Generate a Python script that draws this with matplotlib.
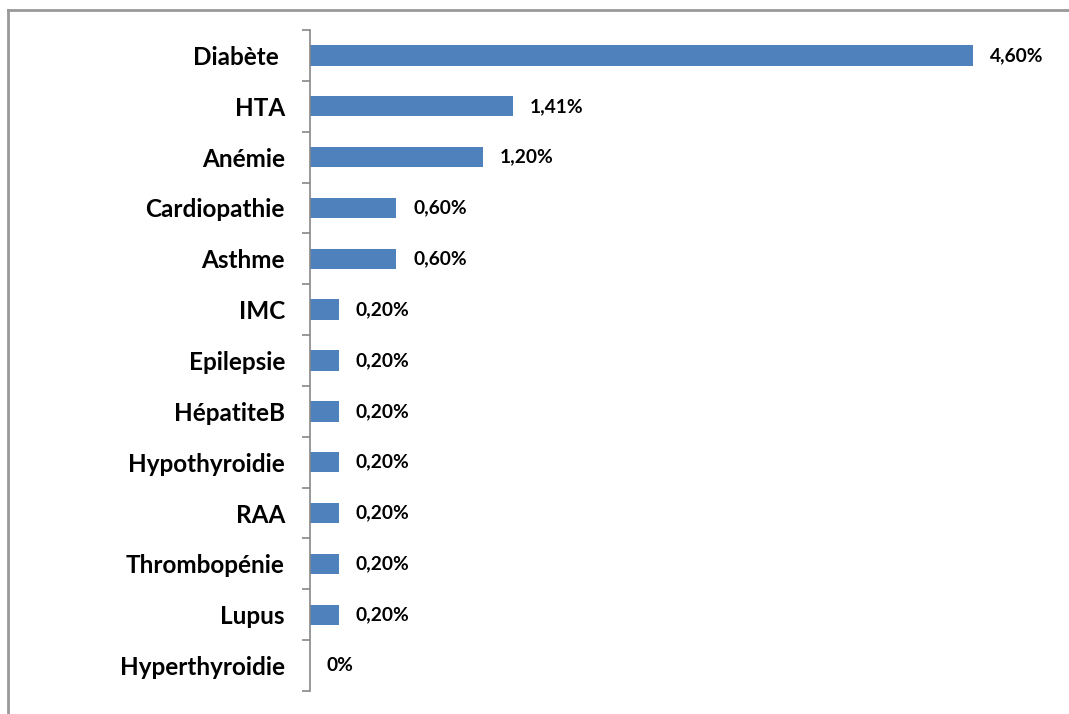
import matplotlib.pyplot as plt
from matplotlib.lines import Line2D

# Prevalence of comorbidities (%)
categories = ['Diabète ', 'HTA', 'Anémie', 'Cardiopathie', 'Asthme', 'IMC', 'Epilepsie',
              'HépatiteB', 'Hypothyroidie', 'RAA', 'Thrombopénie', 'Lupus', 'Hyperthyroidie']
values = [4.60, 1.41, 1.20, 0.60, 0.60, 0.20, 0.20, 0.20, 0.20, 0.20, 0.20, 0.20, 0.0]
value_labels = ['4,60%', '1,41%', '1,20%', '0,60%', '0,60%', '0,20%', '0,20%',
                '0,20%', '0,20%', '0,20%', '0,20%', '0,20%', '0%']

W, H = 1069, 714
fig = plt.figure(figsize=(W / 100, H / 100), dpi=100)
plt.rcParams['font.family'] = ['Lato', 'DejaVu Sans']

# plot area placed in pixel terms
left, right, top, bottom = 310, 1030.5, 30, 691
ax = fig.add_axes([left / W, 1 - bottom / H, (right - left) / W, (bottom - top) / H])

n = len(categories)
ypos = list(range(n))
ax.barh(ypos, values, height=0.4, color='#4F81BD')
ax.set_ylim(n - 0.5, -0.5)
ax.set_xlim(0, 5.0)

for y, v, lab in zip(ypos, values, value_labels):
    ax.annotate(lab, (v, y), xytext=(12, 0), textcoords='offset points',
                va='center', ha='left', fontsize=13.8, fontweight='bold')

# category labels and separator ticks
ax.set_yticks(ypos)
ax.set_yticklabels(categories, fontsize=17.5, fontweight='bold')
ax.tick_params(axis='y', which='major', length=0, pad=18)
ax.set_yticks([i - 0.5 for i in range(n + 1)], minor=True)
ax.tick_params(axis='y', which='minor', length=6, width=1.2, color='#888888', direction='out')
ax.set_xticks([])

for s in ['top', 'right', 'bottom']:
    ax.spines[s].set_visible(False)
ax.spines['left'].set_color('#888888')
ax.spines['left'].set_linewidth(1.2)

# outer frame
frame_kw = dict(color='#999999', linewidth=2, transform=fig.transFigure)
fig.add_artist(Line2D([8 / W, 1.0], [1 - 10 / H, 1 - 10 / H], **frame_kw))
fig.add_artist(Line2D([8 / W, 8 / W], [1 - 10 / H, 0], **frame_kw))

fig.savefig('out.png', dpi=100)
